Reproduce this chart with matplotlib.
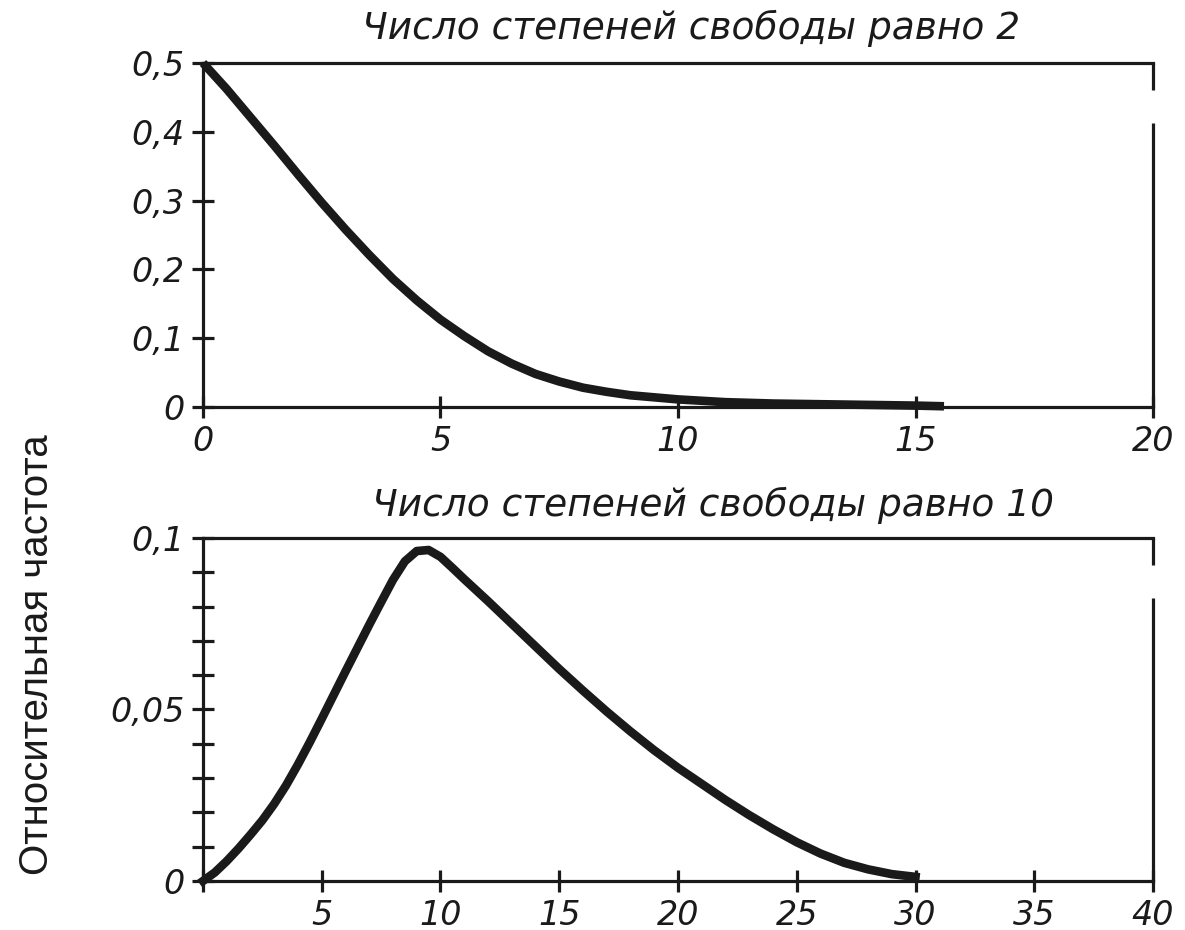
import matplotlib
matplotlib.use("Agg")
import matplotlib.pyplot as plt
from matplotlib.ticker import FixedLocator, FixedFormatter

# Distribution curves, degrees of freedom = 2 and 10
df2_x = [0, 0.5, 1.0, 1.5, 2.0, 2.5, 3.0, 3.5, 4.0, 4.5, 5.0, 5.5, 6.0, 6.5,
         7.0, 7.5, 8.0, 8.5, 9.0, 9.5, 10, 11, 12, 13, 14, 15, 15.6]
df2_y = [0.500, 0.462, 0.421, 0.380, 0.338, 0.297, 0.258, 0.221, 0.186, 0.155,
         0.127, 0.103, 0.081, 0.063, 0.048, 0.037, 0.028, 0.022, 0.017, 0.014,
         0.011, 0.007, 0.005, 0.004, 0.003, 0.002, 0.001]

df10_x = [0, 0.5, 1, 1.5, 2, 2.5, 3, 3.5, 4, 4.5, 5, 5.5, 6, 6.5, 7, 7.5, 8,
          8.5, 9, 9.5, 10, 10.5, 11, 12, 13, 14, 15, 16, 17, 18, 19, 20, 21,
          22, 23, 24, 25, 26, 27, 28, 29, 30]
df10_y = [0.0, 0.0025, 0.0058, 0.0095, 0.0135, 0.0177, 0.0225, 0.0279, 0.0340,
          0.0405, 0.0473, 0.0542, 0.0611, 0.0679, 0.0747, 0.0813, 0.0878, 0.0932,
          0.0962, 0.0965, 0.0945, 0.0913, 0.0880, 0.0816, 0.0750, 0.0684, 0.0618,
          0.0555, 0.0494, 0.0436, 0.0381, 0.0330, 0.0283, 0.0236, 0.0192, 0.0151,
          0.0113, 0.0080, 0.0053, 0.0034, 0.0020, 0.0012]

top_xticks = [0, 5, 10, 15, 20]
top_xlabels = ["0", "5", "10", "15", "20"]
top_yticks = [0, 0.1, 0.2, 0.3, 0.4, 0.5]
top_ylabels = ["0", "0,1", "0,2", "0,3", "0,4", "0,5"]

bot_xticks = [0, 5, 10, 15, 20, 25, 30, 35, 40]
bot_xlabels = ["", "5", "10", "15", "20", "25", "30", "35", "40"]
bot_yticks = [0, 0.05, 0.1]
bot_ylabels = ["0", "0,05", "0,1"]
bot_yminor = [0.01, 0.02, 0.03, 0.04, 0.06, 0.07, 0.08, 0.09]

title_top = "Число степеней свободы равно 2"
title_bot = "Число степеней свободы равно 10"
y_label = "Относительная частота"

INK = "#1a1a1a"
SPINE_LW = 2.3
CURVE_LW = 6.2
TICK_FONT = dict(family="DejaVu Sans", style="oblique", size=24, color=INK)

fig = plt.figure(figsize=(11.85, 9.3), dpi=100)
ax1 = fig.add_axes([0.1713, 0.5624, 0.8017, 0.3699])
ax2 = fig.add_axes([0.1713, 0.0527, 0.8017, 0.3688])


def style_axes(ax, xmax, ymax, gap):
    ax.set_xlim(0, xmax)
    ax.set_ylim(0, ymax)
    for side in ("left", "bottom", "top"):
        ax.spines[side].set_linewidth(SPINE_LW)
        ax.spines[side].set_color(INK)
    ax.spines["right"].set_visible(False)
    # right frame edge drawn with a short break near the top
    ax.axvline(xmax, ymin=0, ymax=gap[0], color=INK, lw=SPINE_LW, clip_on=False,
               solid_capstyle="butt")
    ax.axvline(xmax, ymin=gap[1], ymax=1, color=INK, lw=SPINE_LW, clip_on=False,
               solid_capstyle="butt")
    ax.tick_params(which="both", direction="inout", width=SPINE_LW, color=INK,
                   top=False, right=False)
    ax.tick_params(which="major", length=16, pad=5)
    ax.tick_params(which="minor", length=16)


style_axes(ax1, 20, 0.5, (0.826, 0.922))
ax1.xaxis.set_major_locator(FixedLocator(top_xticks))
ax1.xaxis.set_major_formatter(FixedFormatter(top_xlabels))
ax1.yaxis.set_major_locator(FixedLocator(top_yticks))
ax1.yaxis.set_major_formatter(FixedFormatter(top_ylabels))
ax1.plot(df2_x, df2_y, color=INK, lw=CURVE_LW, clip_on=False,
         solid_capstyle="butt", solid_joinstyle="round", zorder=3)

style_axes(ax2, 40, 0.1, (0.826, 0.922))
ax2.xaxis.set_major_locator(FixedLocator(bot_xticks))
ax2.xaxis.set_major_formatter(FixedFormatter(bot_xlabels))
ax2.yaxis.set_major_locator(FixedLocator(bot_yticks))
ax2.yaxis.set_major_formatter(FixedFormatter(bot_ylabels))
ax2.yaxis.set_minor_locator(FixedLocator(bot_yminor))
ax2.plot(df10_x, df10_y, color=INK, lw=CURVE_LW, clip_on=False,
         solid_capstyle="projecting", solid_joinstyle="round", zorder=3)

for ax in (ax1, ax2):
    for lab in ax.get_xticklabels() + ax.get_yticklabels():
        lab.set_fontfamily(TICK_FONT["family"])
        lab.set_fontstyle(TICK_FONT["style"])
        lab.set_fontsize(TICK_FONT["size"])
        lab.set_color(INK)

fig.text(0.583, 0.970, title_top, ha="center", va="center", family="DejaVu Sans",
         style="oblique", size=27, color=INK)
fig.text(0.602, 0.457, title_bot, ha="center", va="center", family="DejaVu Sans",
         style="oblique", size=27, color=INK)
fig.text(0.031, 0.296, y_label, ha="center", va="center", rotation=90,
         family="Liberation Sans", size=29, color=INK)

fig.savefig("out.png", dpi=100, facecolor="white")
